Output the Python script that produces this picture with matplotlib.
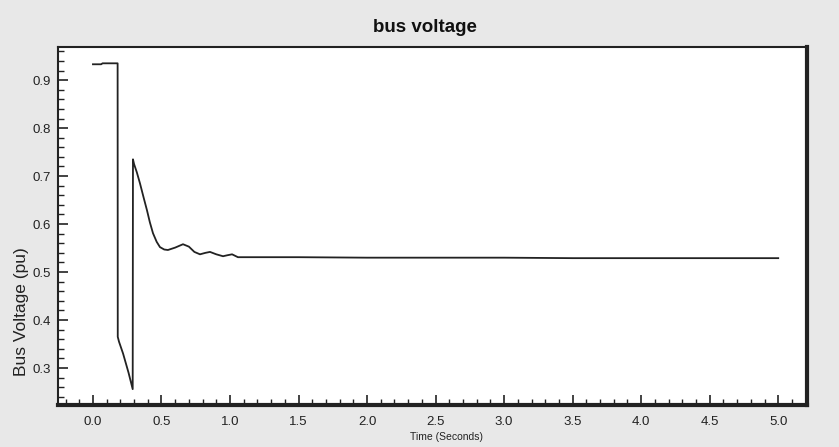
import matplotlib
matplotlib.use("Agg")
import matplotlib.pyplot as plt
from matplotlib.ticker import MultipleLocator

plt.rcParams['font.family'] = ['Liberation Sans', 'DejaVu Sans']

# Data
time_s = [0.0, 0.06, 0.07, 0.18, 0.181, 0.19, 0.22, 0.26, 0.29, 0.292,
          0.30, 0.32, 0.343, 0.37, 0.394, 0.415, 0.438, 0.465, 0.489, 0.52,
          0.547, 0.60, 0.657, 0.70, 0.74,
          0.781, 0.82, 0.854, 0.90, 0.949, 0.98, 1.015, 1.058, 1.5, 2.0, 2.5, 3.0,
          3.5, 4.0, 4.5, 5.0]
voltage_pu = [0.933, 0.933, 0.935, 0.935, 0.365, 0.355, 0.33, 0.29, 0.256, 0.735,
              0.725, 0.708, 0.685, 0.655, 0.629, 0.604, 0.581, 0.563, 0.552, 0.547,
              0.546, 0.551, 0.558, 0.553, 0.542,
              0.537, 0.540, 0.542, 0.537, 0.533, 0.535, 0.537, 0.531, 0.531, 0.530, 0.530, 0.530,
              0.529, 0.529, 0.529, 0.529]

x_ticks = [0.0, 0.5, 1.0, 1.5, 2.0, 2.5, 3.0, 3.5, 4.0, 4.5, 5.0]
y_ticks = [0.3, 0.4, 0.5, 0.6, 0.7, 0.8, 0.9]

fig = plt.figure(figsize=(8.39, 4.47), dpi=100, facecolor='#e8e8e8')
ax = fig.add_axes([58/839, 1-405/447, (807-58)/839, (405-47)/447])
ax.set_facecolor('white')

ax.plot(time_s, voltage_pu, color='#222222', lw=1.3)

ax.set_xlim(-0.255, 5.21)
ax.set_ylim(0.223, 0.969)
ax.set_xticks(x_ticks)
ax.set_xticklabels([f"{v:.1f}" for v in x_ticks])
ax.set_yticks(y_ticks)
ax.set_yticklabels([f"{v:.1f}" for v in y_ticks])
ax.xaxis.set_minor_locator(MultipleLocator(0.1))
ax.yaxis.set_minor_locator(MultipleLocator(0.02))
ax.tick_params(axis='both', which='major', direction='in', length=7, width=1.2,
               labelsize=9.5, colors='#222222')
ax.tick_params(axis='x', which='major', pad=8)
ax.tick_params(axis='y', which='major', pad=5)
ax.tick_params(axis='both', which='minor', direction='in', length=4, width=1.0,
               colors='#222222')

for s in ['left', 'top']:
    ax.spines[s].set_linewidth(1.5)
    ax.spines[s].set_color('#222222')
for s in ['right', 'bottom']:
    ax.spines[s].set_linewidth(3.0)
    ax.spines[s].set_color('#222222')

ax.set_xlabel('Time (Seconds)', fontsize=7.5, color='#222222')
ax.xaxis.set_label_coords((447-58)/749, -(432-405)/358)
ax.set_ylabel('Bus Voltage (pu)', fontsize=12.5, color='#222222')
ax.yaxis.set_label_coords(-(58-29)/749, (405-312)/358)
fig.text(425/839, 1-27/447, 'bus voltage', ha='center', va='center',
         fontsize=13.5, fontweight='bold', color='#111111')

fig.savefig('out.png', dpi=100, facecolor=fig.get_facecolor())
